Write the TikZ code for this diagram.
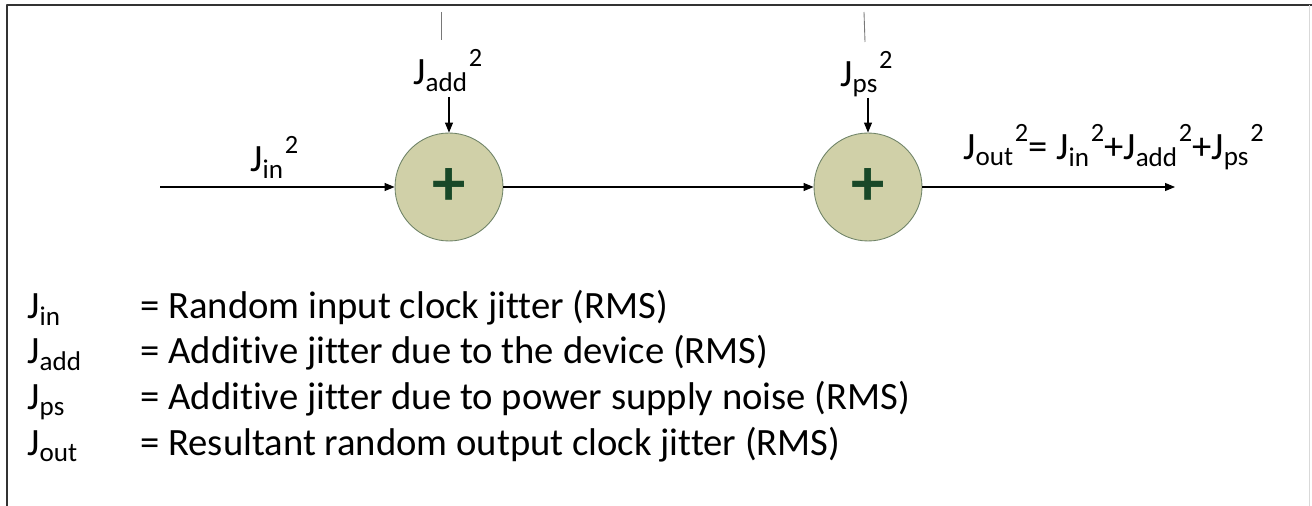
\documentclass[tikz,border=0pt]{standalone}
\usepackage{fontspec}
\setmainfont{Carlito}[Ligatures=NoCommon, RawFeature={-clig}]
\usetikzlibrary{arrows.meta,calc}

\definecolor{sumfill}{RGB}{208,208,168}
\definecolor{sumedge}{RGB}{112,132,104}
\definecolor{plusgreen}{RGB}{24,72,40}
\definecolor{stubgray}{RGB}{120,120,120}

% J with subscript, and J with subscript squared
\newcommand{\Jsub}[1]{J\textsubscript{#1}}
\newcommand{\Jsq}[1]{\Jsub{#1}\kern0.5pt\raisebox{0.48em}{\fontsize{15}{15}\selectfont 2}}

\begin{document}
\begin{tikzpicture}[
    x=0.02cm, y=-0.02cm,
    >={Triangle[length=0.2cm,width=0.16cm]},
    line join=round,
    font=\fontsize{22}{26}\selectfont,
    sumnode/.style={circle, draw=sumedge, fill=sumfill, line width=0.5pt,
        minimum size=2.16cm, inner sep=0pt, text=plusgreen,
        font=\fontsize{38}{38}\selectfont\bfseries},
    flow/.style={->, line width=0.6pt},
    lbl/.style={anchor=base west, inner sep=0pt}
]

% ======================================
% Frame
% ======================================
\useasboundingbox (0,0) rectangle (1312,506);
\draw[line width=1.2pt, black!80] (7,506) -- (7,5) -- (1312,5);
\draw[line width=0.5pt, black!15] (1309,5) -- (1309,506);

% ======================================
% Summing junctions
% ======================================
\node[sumnode] (sumAdd) at (449,187) {+};
\node[sumnode] (sumPs)  at (868,187) {+};

% free ends of the connectors
\coordinate (inStart) at (160,187);
\coordinate (outEnd)  at (1175,187);
\coordinate (addTop)  at (449,97);
\coordinate (psTop)   at (868,98);

% ======================================
% Signal flow
% ======================================
\draw[flow] (inStart) -- (sumAdd);
\draw[flow] (sumAdd) -- (sumPs);
\draw[flow] (sumPs) -- (outEnd);
\draw[flow] (addTop) -- (sumAdd);
\draw[flow] (psTop) -- (sumPs);

% stubs at the top edge
\draw[stubgray, line width=0.5pt] (441,12) -- (441,40);
\draw[stubgray, line width=0.5pt] (864,12) -- (865,42);

% ======================================
% Labels
% ======================================
\node[lbl] (inLbl)  at (250,172) {\Jsq{in}};
\node[lbl] (addLbl) at (413,85)  {\Jsq{add}};
\node[lbl] (psLbl)  at (840,87)  {\Jsq{ps}};
\node[lbl] (outLbl) at (963,160)
    {\Jsq{out}= \Jsq{in}+\Jsq{add}+\Jsq{ps}};

% ======================================
% Legend
% ======================================
\node[lbl] (keyIn)  at (27,319) {\Jsub{in}};
\node[lbl] (keyAdd) at (27,364) {\Jsub{add}};
\node[lbl] (keyPs)  at (27,410) {\Jsub{ps}};
\node[lbl] (keyOut) at (27,456) {\Jsub{out}};

\node[lbl] (txtIn)  at (140,319) {= Random input clock jitter (RMS)};
\node[lbl] (txtAdd) at (140,364) {= Additive jitter due to the device (RMS)};
\node[lbl] (txtPs)  at (140,410) {= Additive jitter due to power supply noise (RMS)};
\node[lbl] (txtOut) at (140,456) {= Resultant random output clock jitter (RMS)};

\end{tikzpicture}
\end{document}
